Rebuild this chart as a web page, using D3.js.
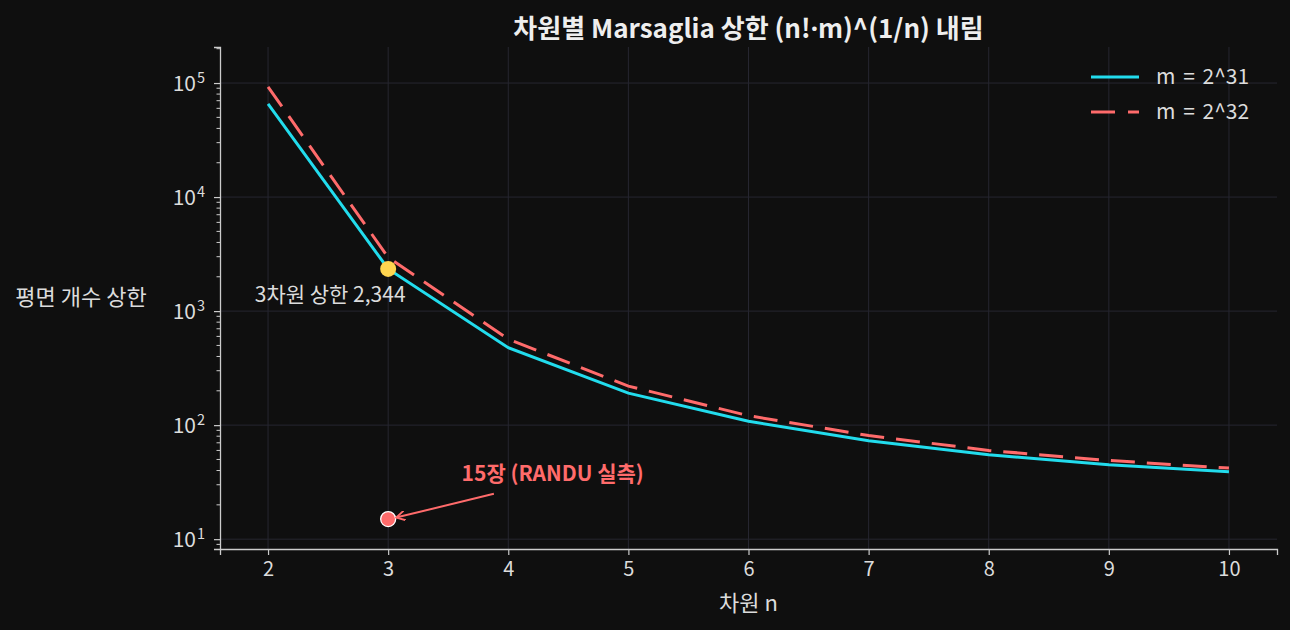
<!DOCTYPE html>
<html>
<head>
<meta charset="utf-8">
<script src="https://cdn.jsdelivr.net/npm/d3@7"></script>
<style>
  html, body { margin: 0; padding: 0; background: #0f0f0f; }
  svg { display: block; font-family: "Noto Sans CJK KR", "Noto Sans", sans-serif; }
</style>
</head>
<body>
<div id="chart"></div>
<script>
// values
const dims = [2, 3, 4, 5, 6, 7, 8, 9, 10];
const bound31 = [65536, 2344, 477, 191, 108, 73, 55, 45, 39];
const bound32 = [92682, 2953, 567, 220, 121, 81, 60, 49, 42];
const xTicks = [2, 3, 4, 5, 6, 7, 8, 9, 10];
const yTicks = [10, 100, 1000, 10000, 100000];
const highlight = { n: 3, value: 2344, label: "3차원 상한 2,344" };
const randu = { n: 3, value: 15, label: "15장 (RANDU 실측)" };

const width = 1290;
const height = 630;
const margin = { top: 47, right: 13, bottom: 81, left: 220 };

const cyan = "#22dced";
const red = "#ff6b6b";
const yellow = "#ffd54f";
const textColor = "#dcdcdc";
const gridColor = "#262630";
const font = '"Noto Sans CJK KR", "Noto Sans", sans-serif';

const svg = d3.select("#chart")
    .append("svg")
    .attr("width", width)
    .attr("height", height);

svg.append("rect").attr("width", width).attr("height", height).attr("fill", "#0f0f0f");

const xScale = d3.scaleLinear()
    .domain([1.6, 10.4])
    .range([margin.left, width - margin.right]);

const yScale = d3.scaleLog()
    .domain([8.2, 207000])
    .range([height - margin.bottom, margin.top]);

// grid
svg.append("g")
    .selectAll("line")
    .data(xTicks)
    .enter()
    .append("line")
    .attr("x1", d => xScale(d)).attr("x2", d => xScale(d))
    .attr("y1", margin.top).attr("y2", height - margin.bottom)
    .attr("stroke", gridColor).attr("stroke-width", 1);

svg.append("g")
    .selectAll("line")
    .data(yTicks)
    .enter()
    .append("line")
    .attr("x1", margin.left).attr("x2", width - margin.right)
    .attr("y1", d => yScale(d)).attr("y2", d => yScale(d))
    .attr("stroke", gridColor).attr("stroke-width", 1);

// axes
const xAxis = d3.axisBottom(xScale).tickValues(xTicks).tickFormat(d3.format("d")).tickSize(6).tickPadding(7);
const gx = svg.append("g")
    .attr("transform", `translate(0, ${height - margin.bottom})`)
    .call(xAxis)
    .attr("font-family", font);
gx.select(".domain").attr("stroke", "#cccccc").attr("stroke-width", 1.3);
gx.selectAll(".tick line").attr("stroke", "#cccccc").attr("stroke-width", 1.2);
gx.selectAll(".tick text").attr("fill", textColor).attr("font-size", 20);

const minorTicks = [];
[1, 10, 100, 1000, 10000, 100000].forEach(dec => {
    for (let k = 2; k <= 9; k++) {
        const v = dec * k;
        if (v >= 8.2 && v <= 207000) minorTicks.push(v);
    }
});

const yAxis = d3.axisLeft(yScale).tickValues(yTicks).tickFormat("").tickSize(6);
const gy = svg.append("g")
    .attr("transform", `translate(${margin.left}, 0)`)
    .call(yAxis);
gy.select(".domain").attr("stroke", "#cccccc").attr("stroke-width", 1.3);
gy.selectAll(".tick line").attr("stroke", "#cccccc").attr("stroke-width", 1.2);

svg.append("g")
    .selectAll("line")
    .data(minorTicks)
    .enter()
    .append("line")
    .attr("x1", margin.left - 3.5).attr("x2", margin.left)
    .attr("y1", d => yScale(d)).attr("y2", d => yScale(d))
    .attr("stroke", "#cccccc").attr("stroke-width", 1);

// y tick labels as 10^k
const yLab = svg.append("g")
    .selectAll("text")
    .data(yTicks)
    .enter()
    .append("text")
    .attr("x", margin.left - 15)
    .attr("y", d => yScale(d) + 8)
    .attr("text-anchor", "end")
    .attr("fill", textColor)
    .attr("font-size", 21);
yLab.append("tspan").text("10");
yLab.append("tspan")
    .attr("dx", 1)
    .attr("dy", -8)
    .attr("font-size", 14.5)
    .text(d => Math.round(Math.log10(d)));

// lines
const line = (vals) => d3.line()
    .x((d, i) => xScale(dims[i]))
    .y(d => yScale(d))(vals);

svg.append("path")
    .attr("d", line(bound32))
    .attr("fill", "none")
    .attr("stroke", red)
    .attr("stroke-width", 3)
    .attr("stroke-dasharray", "24,12");

svg.append("path")
    .attr("d", line(bound31))
    .attr("fill", "none")
    .attr("stroke", cyan)
    .attr("stroke-width", 3);

// highlight point
svg.append("circle")
    .attr("cx", xScale(highlight.n))
    .attr("cy", yScale(highlight.value))
    .attr("r", 8)
    .attr("fill", yellow);

svg.append("text")
    .attr("x", xScale(highlight.n) - 58)
    .attr("y", yScale(highlight.value) + 33)
    .attr("text-anchor", "middle")
    .attr("fill", textColor)
    .attr("font-size", 21)
    .text(highlight.label);

// RANDU measured point + arrow
const rx = xScale(randu.n);
const ry = yScale(randu.value);

svg.append("defs").append("marker")
    .attr("id", "arrow")
    .attr("viewBox", "0 0 10 10")
    .attr("refX", 9).attr("refY", 5)
    .attr("markerWidth", 10).attr("markerHeight", 10)
    .attr("markerUnits", "userSpaceOnUse")
    .attr("orient", "auto")
    .append("path")
    .attr("d", "M0,0 L9,5 L0,10")
    .attr("fill", "none")
    .attr("stroke", red)
    .attr("stroke-width", 1.8);

svg.append("circle")
    .attr("cx", rx)
    .attr("cy", ry)
    .attr("r", 7.5)
    .attr("fill", red)
    .attr("stroke", "#ffffff")
    .attr("stroke-width", 1.3);

svg.append("line")
    .attr("x1", xScale(3.88)).attr("y1", yScale(25))
    .attr("x2", rx + 8).attr("y2", ry - 1.5)
    .attr("stroke", red)
    .attr("stroke-width", 2)
    .attr("marker-end", "url(#arrow)");

svg.append("text")
    .attr("x", xScale(4.37))
    .attr("y", yScale(32.5))
    .attr("text-anchor", "middle")
    .attr("fill", red)
    .attr("font-size", 21)
    .attr("font-weight", "bold")
    .text(randu.label);

// title and axis labels
const title = svg.append("text")
    .attr("x", (margin.left + width - margin.right) / 2)
    .attr("y", 38)
    .attr("text-anchor", "middle")
    .attr("fill", "#eeeeee")
    .attr("font-size", 26)
    .attr("font-weight", "bold");
title.append("tspan").text("차원별 Marsaglia 상한 (n!");
title.append("tspan").attr("font-family", '"Noto Sans", sans-serif').text("·");
title.append("tspan").text("m)^(1/n) 내림");

svg.append("text")
    .attr("x", (margin.left + width - margin.right) / 2)
    .attr("y", 611)
    .attr("text-anchor", "middle")
    .attr("fill", textColor)
    .attr("font-size", 22)
    .text("차원 n");

svg.append("text")
    .attr("x", 81)
    .attr("y", 305)
    .attr("text-anchor", "middle")
    .attr("fill", textColor)
    .attr("font-size", 22)
    .text("평면 개수 상한");

// legend
const legend = [
    { label: "m = 2^31", color: cyan, dash: null },
    { label: "m = 2^32", color: red, dash: "24,13" }
];
const lg = svg.append("g").attr("transform", "translate(1091, 77)");
legend.forEach((d, i) => {
    lg.append("line")
        .attr("x1", 0).attr("x2", 48)
        .attr("y1", i * 35).attr("y2", i * 35)
        .attr("stroke", d.color)
        .attr("stroke-width", 3)
        .attr("stroke-dasharray", d.dash);
    lg.append("text")
        .attr("x", 65)
        .attr("y", i * 35 + 7)
        .attr("fill", textColor)
        .attr("font-size", 21)
        .attr("word-spacing", 3)
        .text(d.label);
});
</script>
</body>
</html>
